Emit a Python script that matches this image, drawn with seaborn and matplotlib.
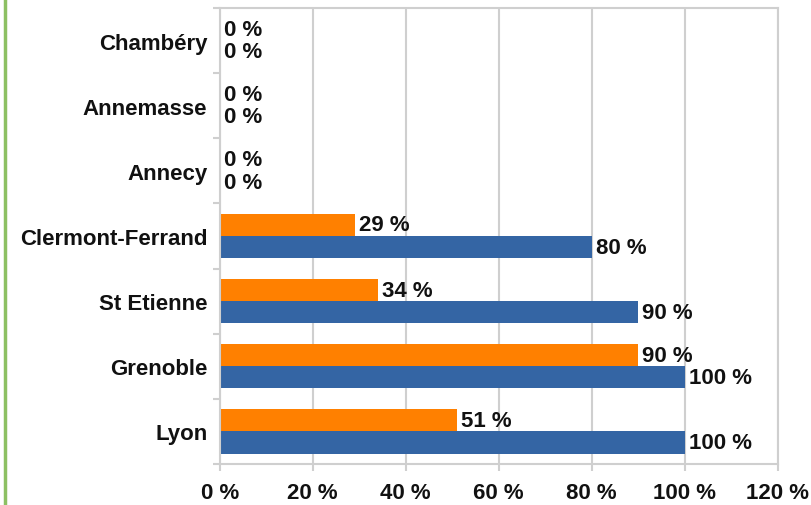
import numpy as np
import pandas as pd
import matplotlib
matplotlib.use('Agg')
import matplotlib.pyplot as plt
from matplotlib.lines import Line2D
from matplotlib.ticker import FixedLocator
import seaborn as sns

# Data
villes = ['Chambéry', 'Annemasse', 'Annecy', 'Clermont-Ferrand',
          'St Etienne', 'Grenoble', 'Lyon']
series = ['Série 1', 'Série 2']
valeurs_orange = [0, 0, 0, 29, 34, 90, 51]
valeurs_bleu = [0, 0, 0, 80, 90, 100, 100]
x_ticks = [0, 20, 40, 60, 80, 100, 120]

df = pd.DataFrame({
    'ville': villes * 2,
    'serie': [series[0]] * len(villes) + [series[1]] * len(villes),
    'valeur': valeurs_orange + valeurs_bleu,
})

sns.set_style('white')
plt.rcParams['font.family'] = ['Liberation Sans', 'DejaVu Sans']
plt.rcParams['font.weight'] = 'bold'

fig = plt.figure(figsize=(8.11, 5.06), dpi=100)
ax = fig.add_axes([0.271, 0.081, 0.688, 0.901])

sns.barplot(data=df, x='valeur', y='ville', hue='serie', order=villes,
            hue_order=series, palette=['#ff8000', '#3465a4'], orient='h',
            width=0.68, saturation=1, linewidth=0, ax=ax, legend=False)

# value labels at the end of each bar
for cont in ax.containers:
    ax.bar_label(cont, labels=[f'{v:.0f} %' for v in cont.datavalues],
                 padding=3, fontsize=16, fontweight='bold', color='#111111')

grey = '#cfcfcf'
ax.set_xlim(0, 120)
ax.set_ylim(len(villes) - 0.5, -0.5)
ax.set_xticks(x_ticks)
ax.set_xticklabels([f'{t} %' for t in x_ticks], fontsize=16, fontweight='bold')
ax.set_yticklabels(villes, fontsize=16, fontweight='bold')
ax.set_xlabel('')
ax.set_ylabel('')

ax.grid(axis='x', color=grey, linewidth=1.5)
ax.set_axisbelow(True)
for s in ax.spines.values():
    s.set_visible(True)
    s.set_color(grey)
    s.set_linewidth(1.5)

ax.yaxis.set_minor_locator(FixedLocator(np.arange(-0.5, len(villes), 1)))
ax.tick_params(axis='y', which='major', length=0, pad=9, colors='#111111')
ax.tick_params(axis='y', which='minor', left=True, length=5, width=1.5, color=grey)
ax.tick_params(axis='x', which='major', bottom=True, length=5, width=1.5,
               color=grey, labelcolor='#111111', pad=8)

# green border line on the left of the screenshot
fig.add_artist(Line2D([5 / 811, 5 / 811], [0, 1], color='#8dc063', linewidth=2.5,
                      transform=fig.transFigure))

fig.savefig('out.png', dpi=100, facecolor='white')
